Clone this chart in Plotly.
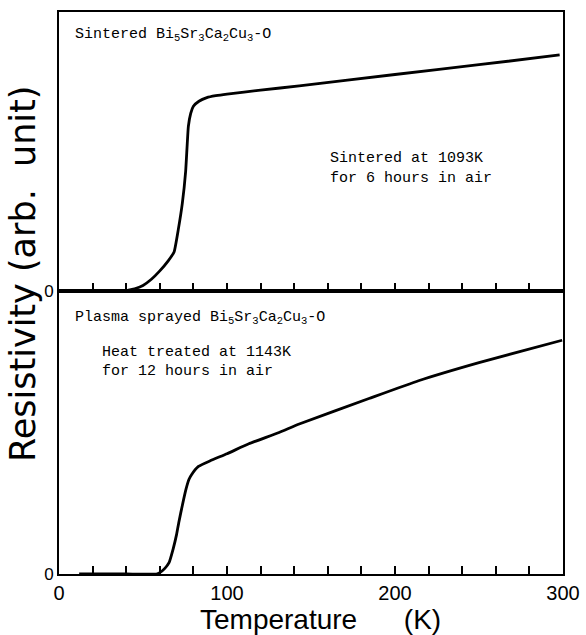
import plotly.graph_objects as go

# Top panel: sintered sample
t_sint = [38, 45, 50, 55, 60, 65, 68.5, 71, 73.4, 75.4, 77, 78.4, 80, 83.3, 88, 93.3, 100, 120, 143, 200, 250, 298]
r_sint = [0.0, 0.008, 0.02, 0.042, 0.072, 0.108, 0.14, 0.22, 0.314, 0.43, 0.59, 0.637, 0.662, 0.68, 0.693, 0.70, 0.706, 0.72, 0.735, 0.776, 0.811, 0.846]

# Bottom panel: plasma sprayed sample
t_plasma = [12, 40, 58, 60, 63, 65.5, 68, 70, 71.4, 73.5, 75.6, 77.4, 78.8, 83, 90, 100, 113, 131, 143, 184.5, 214, 250, 299.5]
r_plasma = [0.0, 0.0, 0.0, 0.005, 0.02, 0.04, 0.09, 0.14, 0.185, 0.245, 0.30, 0.335, 0.35, 0.38, 0.40, 0.425, 0.46, 0.50, 0.53, 0.62, 0.683, 0.747, 0.826]

x_labels = [0, 100, 200, 300]
minor_step = 20

L, T, W, H = 59, 12, 504, 562
split = (574 - 291) / H

def px(x):
    return (x - L) / W

def py(y):
    return (T + H - y) / H

fig = go.Figure()
line_style = dict(color="black", width=2.8, shape="spline", smoothing=0.4)
fig.add_trace(go.Scatter(x=t_sint, y=r_sint, mode="lines", xaxis="x", yaxis="y",
                         line=line_style, showlegend=False, hoverinfo="skip"))
fig.add_trace(go.Scatter(x=t_plasma, y=r_plasma, mode="lines", xaxis="x2", yaxis="y2",
                         line=line_style, showlegend=False, hoverinfo="skip"))

frame = dict(range=[0, 300], showline=True, linecolor="black", linewidth=2, mirror=True,
             showgrid=False, zeroline=False)
yframe = dict(range=[0, 1], showline=True, linecolor="black", linewidth=2, mirror=True,
              showgrid=False, zeroline=False, ticks="", tickmode="array",
              tickvals=[0], ticktext=["0"],
              tickfont=dict(family="Liberation Sans", size=17, color="black"))
inward = dict(ticks="inside", ticklen=8, tickwidth=2, tickcolor="black")

fig.update_layout(
    width=586, height=635,
    margin=dict(l=L, r=586 - L - W, t=T, b=635 - T - H, autoexpand=False),
    paper_bgcolor="white", plot_bgcolor="white",
    xaxis=dict(**frame, **inward, domain=[0, 1], anchor="y", showticklabels=False,
               tickmode="linear", tick0=0, dtick=minor_step),
    xaxis2=dict(**frame, **inward, domain=[0, 1], anchor="y2", tickmode="array",
                tickvals=x_labels, ticktext=[str(v) for v in x_labels],
                minor=dict(**inward, tick0=0, dtick=minor_step, showgrid=False),
                tickfont=dict(family="Liberation Sans", size=20, color="black")),
    yaxis=dict(**yframe, domain=[split, 1], anchor="x"),
    yaxis2=dict(**yframe, domain=[0, split], anchor="x2"),
)

mono = dict(family="Liberation Mono", size=15, color="black")
annots = [
    dict(text="Sintered Bi<sub>5</sub>Sr<sub>3</sub>Ca<sub>2</sub>Cu<sub>3</sub>-O", x=px(73), y=py(35)),
    dict(text="Sintered at 1093K", x=px(328), y=py(158)),
    dict(text="for 6 hours in air", x=px(328), y=py(178)),
    dict(text="Plasma sprayed Bi<sub>5</sub>Sr<sub>3</sub>Ca<sub>2</sub>Cu<sub>3</sub>-O", x=px(73), y=py(318)),
    dict(text="Heat treated at 1143K", x=px(100), y=py(352)),
    dict(text="for 12 hours in air", x=px(100), y=py(372)),
]
for a in annots:
    fig.add_annotation(xref="paper", yref="paper", showarrow=False, font=mono,
                       xanchor="left", yanchor="middle", **a)

fig.add_annotation(text="Resistivity (arb.\u00a0 unit)", xref="paper", yref="paper",
                   x=px(23), y=py(274), textangle=-90, showarrow=False,
                   xanchor="center", yanchor="middle",
                   font=dict(family="DejaVu Sans", size=35, color="black"))
fig.add_annotation(text="Temperature\u00a0\u00a0\u00a0\u00a0\u00a0 (K)", xref="paper", yref="paper",
                   x=px(320), y=py(619), showarrow=False,
                   xanchor="center", yanchor="middle",
                   font=dict(family="Liberation Sans", size=28, color="black"))

fig.write_html("out.html")
